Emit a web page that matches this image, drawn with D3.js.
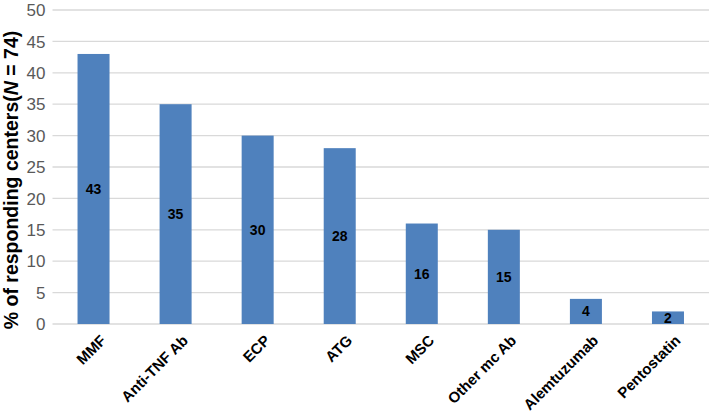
<!DOCTYPE html>
<html>
<head>
<meta charset="utf-8">
<script src="https://cdn.jsdelivr.net/npm/d3@7"></script>
<style>
  body { margin: 0; background: #fff; }
  text { font-family: Arial, "Liberation Sans", sans-serif; }
</style>
</head>
<body>
<script>
const categories = ["MMF", "Anti-TNF Ab", "ECP", "ATG", "MSC", "Other mc Ab", "Alemtuzumab", "Pentostatin"];
const values = [43, 35, 30, 28, 16, 15, 4, 2];
const yTicks = [0, 5, 10, 15, 20, 25, 30, 35, 40, 45, 50];

const width = 709, height = 413;
const mLeft = 52.5, mRight = 709, mTop = 10, mBottom = 324;

let svg = d3.select("body").append("svg")
  .attr("width", width).attr("height", height);

let x = d3.scaleBand().domain(categories).range([mLeft, mRight])
  .paddingInner(0.61).paddingOuter(0.305);
let y = d3.scaleLinear().domain([0, 50]).range([mBottom, mTop]);

// gridlines
svg.selectAll(".grid").data(yTicks).enter().append("line")
  .attr("x1", mLeft).attr("x2", mRight)
  .attr("y1", d => y(d)).attr("y2", d => y(d))
  .attr("stroke", "#d9d9d9").attr("stroke-width", 1.3);

// y tick labels
svg.selectAll(".ytick").data(yTicks).enter().append("text")
  .attr("x", mLeft - 7).attr("y", d => y(d))
  .attr("dy", "0.36em")
  .attr("text-anchor", "end")
  .attr("font-size", 17)
  .attr("fill", "#595959")
  .text(d => d);

// bars
svg.selectAll(".bar").data(values).enter().append("rect")
  .attr("x", (d, i) => x(categories[i]))
  .attr("width", x.bandwidth())
  .attr("y", d => y(d))
  .attr("height", d => y(0) - y(d))
  .attr("fill", "#4f81bd");

// value labels
svg.selectAll(".val").data(values).enter().append("text")
  .attr("x", (d, i) => x(categories[i]) + x.bandwidth() / 2)
  .attr("y", d => (y(d) + y(0)) / 2)
  .attr("dy", "0.36em")
  .attr("text-anchor", "middle")
  .attr("font-size", 14)
  .attr("font-weight", "bold")
  .attr("fill", "#000")
  .text(d => d);

// category labels
svg.selectAll(".cat").data(categories).enter().append("text")
  .attr("transform", d => "translate(" + (x(d) + x.bandwidth() / 2 + 6) + "," + (mBottom + 10) + ") rotate(-45)")
  .attr("text-anchor", "end")
  .attr("dy", "0.7em")
  .attr("font-size", 15)
  .attr("font-weight", "bold")
  .attr("fill", "#000")
  .text(d => d);

// y axis title
let yt = svg.append("text")
  .attr("transform", "translate(18,180) rotate(-90)")
  .attr("text-anchor", "middle")
  .attr("font-size", 19.5)
  .attr("font-weight", "bold")
  .attr("fill", "#000");
yt.append("tspan").text("% of responding centers(");
yt.append("tspan").attr("font-style", "italic").text("N");
yt.append("tspan").text(" = 74)");
</script>
</body>
</html>
